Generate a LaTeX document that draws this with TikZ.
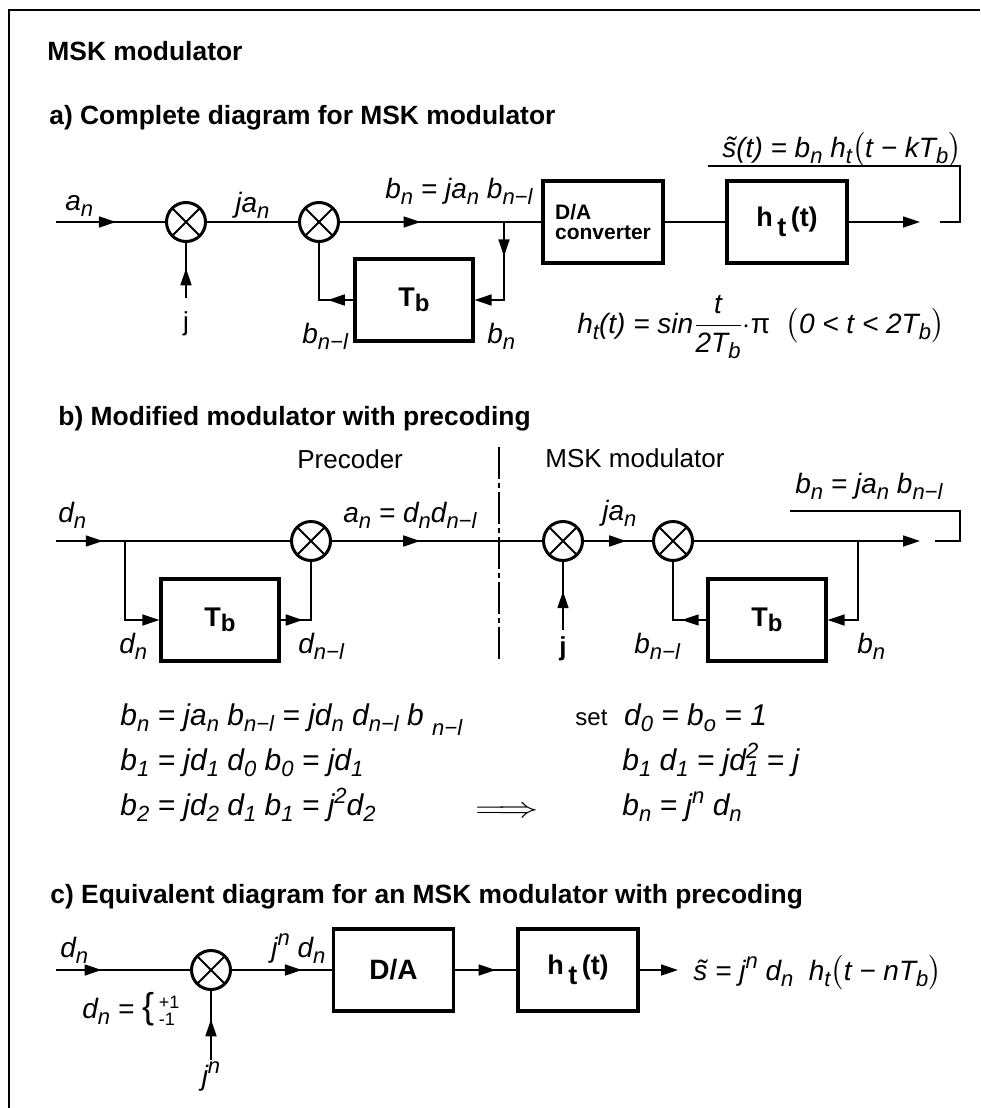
\documentclass[tikz,border=0pt]{standalone}
\usepackage{fontspec}
\setmainfont{Liberation Sans}
\usepackage{amsmath}
\usepackage{graphicx}
\usetikzlibrary{arrows.meta, decorations.markings}
\tikzset{
  mult/.style={
    circle, draw, line width=1.5pt,
    minimum size=19.5pt, inner sep=0pt,
    path picture={\draw[line width=0.9pt]
      (path picture bounding box.north west) -- (path picture bounding box.south east)
      (path picture bounding box.north east) -- (path picture bounding box.south west);}
  },
  block/.style={
    draw, line width=1.6pt,
    minimum width=59pt, minimum height=41pt,
    font=\fontsize{13.5}{15}\selectfont\bfseries,
    align=center
  },
  wire/.style={line width=0.8pt},
  signal/.style={wire, -{Triangle[length=8.5pt, width=5.5pt]}},
  midarrow/.style={wire, postaction={decorate},
    decoration={markings, mark=at position #1 with {\arrow{Triangle[length=8.5pt, width=5.5pt]}}}},
  divider/.style={line width=0.6pt, dash pattern=on 16pt off 2pt on 2.5pt off 2pt},
  lbl/.style={font=\fontsize{14}{16}\selectfont\itshape, inner sep=0pt},
  upl/.style={font=\fontsize{13}{15}\selectfont, inner sep=0pt},
  eqn/.style={font=\fontsize{15}{17}\selectfont\itshape, inner sep=0pt, anchor=base west},
  heading/.style={font=\fontsize{13.2}{16}\selectfont\bfseries, inner sep=0pt, anchor=base west}
}
\newcommand{\lo}[1]{\raisebox{-3pt}{\fontsize{11}{11}\selectfont #1}}
\newcommand{\hi}[1]{\raisebox{6pt}{\fontsize{11}{11}\selectfont #1}}
\newcommand{\nml}{n−l}
\newcommand{\Tbox}{T\raisebox{-2.5pt}{\fontsize{12}{12}\selectfont b}}
\newcommand{\htbox}{h\,\raisebox{-5pt}{t}\,(t)}

\begin{document}
\begin{tikzpicture}[x=0.5pt, y=-0.5pt]
\useasboundingbox (0,0) rectangle (980,1108);

% open frame
\draw[line width=1.2pt] (9,1108) -- (9,10) -- (980,10);

% headings
\node[heading] (tmain) at (47,60) {MSK modulator};
\node[heading] (ta) at (49,124) {a) Complete diagram for MSK modulator};
\node[heading] (tb) at (58,425) {b) Modified modulator with precoding};
\node[heading] (tc) at (50,903) {c) Equivalent diagram for an MSK modulator with precoding};

% ---------------- a) complete modulator ----------------
\node[mult] (mulA1) at (186,222) {};
\node[mult] (mulA2) at (319,222) {};
\node[block] (tbA) at (414,300) {\Tbox};
\node[block, minimum width=60pt, font=\fontsize{10.5}{10}\selectfont\bfseries, align=left] (dacA) at (603,222) {D/A\\converter};
\node[block, minimum width=60pt] (htA) at (787,222) {\htbox};
\coordinate (ainA) at (56,222);
\coordinate (jA) at (186,298);
\coordinate (brA) at (504,222);
\coordinate (aoutA) at (920,222);

\draw[midarrow=0.55] (ainA) -- (mulA1.west);
\draw[midarrow=0.54] (jA) -- (mulA1.south);
\draw[wire] (mulA1.east) -- (mulA2.west);
\draw[midarrow=0.40] (mulA2.east) -- (dacA.west);
\draw[signal, midarrow=0.32] (brA) -- (brA |- tbA.east) -- (tbA.east);
\draw[midarrow=0.28] (tbA.west) -| (mulA2.south);
\draw[wire] (dacA.east) -- (htA.west);
\draw[signal] (htA.east) -- (aoutA);
\draw[wire] (940,222) -- (960,222) -- (960,166) -- (708,166);

\node[lbl, anchor=base west] (lanA) at (65,210) {a\lo{n}};
\node[upl, anchor=base] (ljA) at (186,330) {j};
\node[lbl, anchor=base west] (ljanA) at (235,212) {ja\lo{n}};
\node[lbl, anchor=base west] (lbnA) at (385,198) {b\lo{n} = ja\lo{n} b\lo{\nml}};
\node[lbl, anchor=base west] (lbnlA) at (302,343) {b\lo{\nml}};
\node[lbl, anchor=base west] (lbnA2) at (487,343) {b\lo{n}};
\node[lbl, anchor=base west] (lsA) at (722,157) {\~s(t) = b\lo{n}\ h\lo{t}$\bigl($t − kT\lo{b}$\bigr)$};
\node[lbl, anchor=base west] (lhA) at (577,333) {h\lo{t}(t) = sin$\dfrac{\text{t}}{\text{2T\lo{b}}}\cdot${\upshape π}\ \ $\bigl($0 < t < 2T\lo{b}$\bigr)$};

% ---------------- b) precoder + modulator ----------------
\node[mult] (mulB1) at (311,541) {};
\node[mult] (mulB2) at (563,541) {};
\node[mult] (mulB3) at (673,541) {};
\node[block] (tbB1) at (220,620) {\Tbox};
\node[block] (tbB2) at (767,620) {\Tbox};
\coordinate (binB) at (56,541);
\coordinate (brB1) at (125,541);
\coordinate (jB) at (563,630);
\coordinate (brB2) at (858,541);
\coordinate (boutB) at (920,541);

\draw[midarrow=0.2] (binB) -- (mulB1.west);
\draw[signal] (brB1) |- (tbB1.west);
\draw[midarrow=0.25] (tbB1.east) -| (mulB1.south);
\draw[midarrow=0.42] (mulB1.east) -- (mulB2.west);
\draw[midarrow=0.57] (jB) -- (mulB2.south);
\draw[midarrow=0.62] (mulB2.east) -- (mulB3.west);
\draw[signal] (mulB3.east) -- (boutB);
\draw[signal] (brB2) |- (tbB2.east);
\draw[midarrow=0.27] (tbB2.west) -| (mulB3.south);
\draw[wire] (935,541) -- (960,541) -- (960,511) -- (790,511);
\draw[divider] (499,447) -- (499,663);

\node[lbl, anchor=base west] (ldnB) at (58,522) {d\lo{n}};
\node[lbl, anchor=base west] (ldnB2) at (119,653) {d\lo{n}};
\node[lbl, anchor=base west] (ldnlB) at (298,653) {d\lo{\nml}};
\node[upl, anchor=base west] (lprec) at (297,468) {Precoder};
\node[lbl, anchor=base west] (lanB) at (343,522) {a\lo{n} = d\lo{n}d\lo{\nml}};
\node[upl, anchor=base west] (lmsk) at (545,467) {MSK modulator};
\node[lbl, anchor=base west] (ljanB) at (602,520) {ja\lo{n}};
\node[upl, font=\fontsize{13}{15}\selectfont\bfseries, anchor=base] (ljB) at (563,655) {j};
\node[lbl, anchor=base west] (lbnlB) at (634,653) {b\lo{\nml}};
\node[lbl, anchor=base west] (lbnB) at (857,653) {b\lo{n}};
\node[lbl, anchor=base west] (lbnB2) at (795,493) {b\lo{n} = ja\lo{n} b\lo{\nml}};

% derivation
\node[eqn] (eq1) at (120,725) {b\lo{n} = ja\lo{n} b\lo{\nml} = jd\lo{n} d\lo{\nml} b\ \raisebox{-2pt}{\lo{\nml}}};
\node[eqn] (eq2) at (120,770) {b\lo{1} = jd\lo{1} d\lo{0} b\lo{0} = jd\lo{1}};
\node[eqn] (eq3) at (120,815) {b\lo{2} = jd\lo{2} d\lo{1} b\lo{1} = j\hi{2}d\lo{2}};
\node[inner sep=0pt, font=\fontsize{14}{16}\selectfont] (impl) at (507,812) {\scalebox{1.4}[1]{$\Longrightarrow$}};
\node[eqn] (eq4) at (575,725) {{\upshape\fontsize{12}{14}\selectfont set}\ \ d\lo{0} = b\lo{o} = 1};
\node[eqn] (eq5) at (622,770) {b\lo{1} d\lo{1} = jd\rlap{\hi{2}}\lo{1} = j};
\node[eqn] (eq6) at (622,815) {b\lo{n} = j\hi{n} d\lo{n}};

% ---------------- c) equivalent diagram ----------------
\node[mult] (mulC) at (211,970) {};
\node[block, minimum width=60pt, font=\fontsize{14}{16}\selectfont\bfseries] (dacC) at (393.5,970) {D/A};
\node[block, minimum width=60pt] (htC) at (578,970) {\htbox};
\coordinate (cinC) at (56,970);
\coordinate (jC) at (211,1060);
\coordinate (coutC) at (678,970);

\draw[midarrow=0.34] (cinC) -- (mulC.west);
\draw[midarrow=0.59] (jC) -- (mulC.south);
\draw[midarrow=0.70] (mulC.east) -- (dacC.west);
\draw[midarrow=0.66] (dacC.east) -- (htC.west);
\draw[signal] (htC.east) -- (coutC);

\node[lbl, anchor=base west] (ldnC) at (60,957) {d\lo{n}};
\node[lbl, anchor=base west] (ldsetC) at (82,1018) {d\lo{n} = {\upshape\fontsize{18}{18}\selectfont\{}\,{\upshape\fontsize{9}{8}\selectfont\begin{tabular}[c]{@{}l@{}}+1\\-1\end{tabular}}};
\node[lbl, anchor=base west] (ljdC) at (271,957) {j\hi{n} d\lo{n}};
\node[lbl, anchor=base] (ljnC) at (211,1085) {j\hi{n}};
\node[lbl, anchor=base west] (lsC) at (693,980) {\~s = j\hi{n} d\lo{n}\ \ h\lo{t}$\bigl($t − nT\lo{b}$\bigr)$};

\end{tikzpicture}
\end{document}
